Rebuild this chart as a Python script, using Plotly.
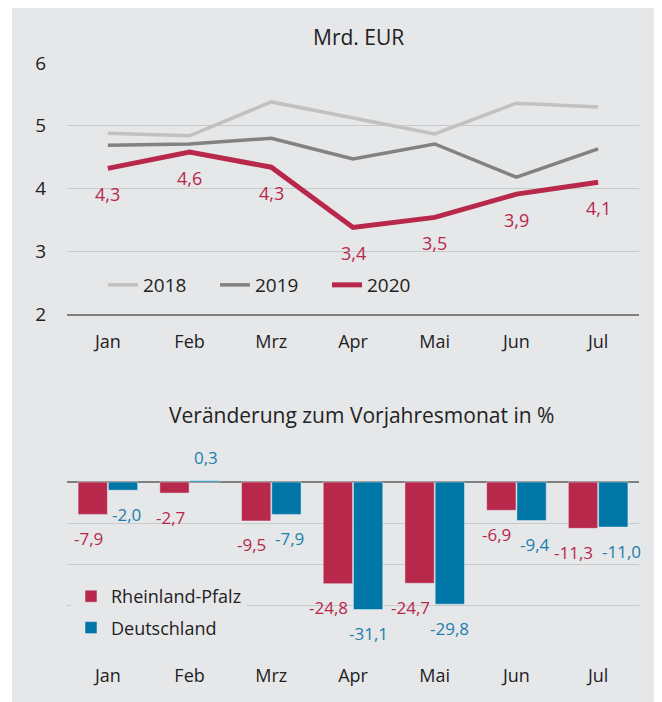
import plotly.graph_objects as go

months = ["Jan", "Feb", "Mrz", "Apr", "Mai", "Jun", "Jul"]
v2018 = [4.88, 4.84, 5.38, 5.13, 4.87, 5.36, 5.30]
v2019 = [4.69, 4.71, 4.80, 4.47, 4.71, 4.18, 4.63]
v2020 = [4.32, 4.58, 4.34, 3.38, 3.54, 3.91, 4.10]
rp = [-7.9, -2.7, -9.5, -24.8, -24.7, -6.9, -11.3]
de = [-2.0, 0.3, -7.9, -31.1, -29.8, -9.4, -11.0]
top_ticks = [2, 3, 4, 5, 6]

FONT = "Open Sans"
PANEL = "#e6e7e9"
GRID = "#c9cacc"
AXIS = "#7f7f7f"
C18 = "#c1c1c1"
C19 = "#828282"
RED = "#b8284b"
BLUE = "#0076a6"
BLUE_T = "#1a80ad"
TXT = "#222222"

# page has an 8px body margin: figure is sized to fit the 662x702 window
OFF = 8
W, H = 662 - OFF, 702 - OFF
L, R = 67 - OFF, 639 - OFF


def px(xp):
    return (xp - OFF - L) / (R - L)


def py(yp):
    return 1 - (yp - OFF) / H


def fmt(v):
    return f"{v:.1f}".replace(".", ",")


fig = go.Figure()

fig.add_trace(go.Scatter(x=months, y=v2018, mode="lines", name="2018",
                         line=dict(color=C18, width=3.5), legend="legend",
                         legendgroup="a", xaxis="x", yaxis="y"))
fig.add_trace(go.Scatter(x=months, y=v2019, mode="lines", name="2019",
                         line=dict(color=C19, width=3.5), legend="legend",
                         legendgroup="b", xaxis="x", yaxis="y"))
fig.add_trace(go.Scatter(x=months, y=v2020, mode="lines", name="2020",
                         line=dict(color=RED, width=5), legend="legend",
                         legendgroup="c", xaxis="x", yaxis="y"))

fig.add_trace(go.Bar(x=months, y=rp, name="Rheinland-Pfalz", marker=dict(color=RED),
                     legend="legend2", legendgroup="d", xaxis="x2", yaxis="y2"))
fig.add_trace(go.Bar(x=months, y=de, name="Deutschland", marker=dict(color=BLUE),
                     legend="legend2", legendgroup="e", xaxis="x2", yaxis="y2"))

annotations = []
for m, v in zip(months, v2020):
    annotations.append(dict(x=m, y=v, xref="x", yref="y", text=fmt(v), showarrow=False,
                            yshift=-26, font=dict(family=FONT, size=18, color=RED)))
for m, a, b in zip(months, rp, de):
    # Rheinland-Pfalz label: right-aligned just left of the category centre
    annotations.append(dict(x=m, y=a, xref="x2", yref="y2", text=fmt(a), showarrow=False,
                            xanchor="right", xshift=-3, yshift=-24 if a < 0 else 23,
                            font=dict(family=FONT, size=17, color=RED)))
    # Deutschland label: centred on its bar when it hangs well below, else left-aligned
    if b < a - 3:
        kw = dict(xanchor="center", xshift=15)
    else:
        kw = dict(xanchor="left", xshift=2)
    annotations.append(dict(x=m, y=b, xref="x2", yref="y2", text=fmt(b), showarrow=False,
                            yshift=-24 if b < 0 else 23,
                            font=dict(family=FONT, size=17, color=BLUE_T), **kw))

annotations.append(dict(x=px(358), y=py(37), xref="paper", yref="paper", text="Mrd. EUR",
                        showarrow=False, xanchor="center", yanchor="middle",
                        font=dict(family=FONT, size=21, color=TXT)))
annotations.append(dict(x=px(361), y=py(415), xref="paper", yref="paper",
                        text="Veränderung zum Vorjahresmonat in %",
                        showarrow=False, xanchor="center", yanchor="middle",
                        font=dict(family=FONT, size=21, color=TXT)))

fig.update_layout(
    width=W, height=H,
    margin=dict(l=L, r=W - R, t=0, b=0, autoexpand=False),
    paper_bgcolor="white",
    plot_bgcolor="rgba(0,0,0,0)",
    font=dict(family=FONT, size=18, color=TXT),
    barmode="group", bargap=0.26, bargroupgap=0.03,
    shapes=[dict(type="rect", xref="paper", yref="paper", x0=px(12), x1=px(662),
                 y0=0, y1=1, fillcolor=PANEL, line=dict(width=0), layer="below")],
    annotations=annotations,
    xaxis=dict(domain=[0, 1], anchor="y", type="category", categoryarray=months,
               range=[-0.5, 6.5], showgrid=False, showline=True, linecolor=AXIS,
               linewidth=2, ticks="outside", ticklen=10, tickcolor="rgba(0,0,0,0)",
               automargin=False,
               tickfont=dict(family=FONT, size=18, color=TXT), fixedrange=True),
    yaxis=dict(domain=[py(314), py(63)], anchor="x", range=[2, 6], tickvals=top_ticks,
               showgrid=True, gridcolor=GRID, gridwidth=1, zeroline=False,
               showline=False, ticks="outside", ticklen=16, tickcolor="rgba(0,0,0,0)",
               automargin=False,
               tickfont=dict(family=FONT, size=19, color=TXT)),
    xaxis2=dict(domain=[0, 1], anchor="y2", type="category", categoryarray=months,
                range=[-0.5, 6.5], showgrid=False, showline=False,
                ticks="outside", ticklen=13, tickcolor="rgba(0,0,0,0)", automargin=False,
                tickfont=dict(family=FONT, size=18, color=TXT)),
    yaxis2=dict(domain=[py(646), py(441)], anchor="x2", range=[-40, 10], dtick=10,
                showgrid=True, gridcolor=GRID, gridwidth=1, zeroline=True,
                zerolinecolor=AXIS, zerolinewidth=2, showticklabels=False, ticks="",
                automargin=False),
    legend=dict(orientation="h", x=px(103), xanchor="left", y=py(285), yanchor="middle",
                bgcolor=PANEL, entrywidth=67, entrywidthmode="pixels",
                font=dict(family=FONT, size=19, color=TXT), traceorder="normal"),
    legend2=dict(orientation="v", x=px(71), xanchor="left", y=py(612), yanchor="middle",
                 bgcolor=PANEL, tracegroupgap=5, traceorder="grouped",
                 font=dict(family=FONT, size=18, color=TXT)),
)

fig.write_html("out.html")
